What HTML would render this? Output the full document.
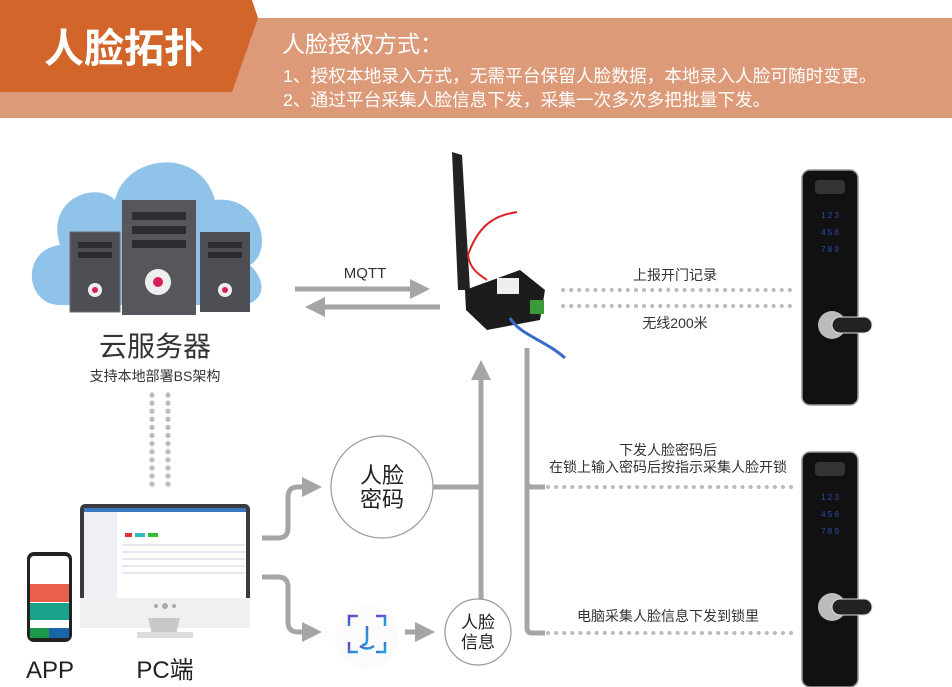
<!DOCTYPE html>
<html><head><meta charset="utf-8"><style>
body{margin:0;width:952px;height:687px;overflow:hidden;background:#fff;font-family:"Liberation Sans","Noto Sans CJK SC",sans-serif}
svg{display:block}
text{font-family:"Liberation Sans","Noto Sans CJK SC",sans-serif}
</style></head><body>
<svg width="952" height="687" viewBox="0 0 952 687" xmlns="http://www.w3.org/2000/svg">
<defs>
<marker id="ah" markerWidth="4" markerHeight="4" refX="2" refY="2" orient="auto" markerUnits="strokeWidth"><path d="M0,0 L4,2 L0,4 z" fill="#a3a6a4"/></marker>
<linearGradient id="fg" x1="0" y1="0" x2="1" y2="1"><stop offset="0" stop-color="#6a3fc8"/><stop offset="1" stop-color="#1aa7e0"/></linearGradient>
</defs>
<!-- header -->
<rect x="0" y="18" width="952" height="100" fill="#dc9a78"/>
<polygon points="0,0 252,0 258,18 232,92 0,92" fill="#d2652a"/>
<text x="44" y="62" font-size="40" font-weight="bold" fill="#fff">人脸拓扑</text>
<text x="282" y="52" font-size="23" fill="#fff">人脸授权方式：</text>
<text x="283" y="82" font-size="17.7" fill="#fff">1、授权本地录入方式，无需平台保留人脸数据，本地录入人脸可随时变更。</text>
<text x="283" y="106" font-size="17.7" fill="#fff">2、通过平台采集人脸信息下发，采集一次多次多把批量下发。</text>

<!-- cloud -->
<path d="M60,305 C25,305 20,250 60,245 C45,200 95,180 115,200 C125,155 200,145 215,200 C260,195 275,250 250,265 C275,290 255,310 230,305 Z" fill="#8fc3ea"/>
<rect x="70" y="232" width="50" height="80" fill="#4d4f55"/><rect x="70" y="232" width="50" height="80" fill="none" stroke="#6c6e73"/>
<rect x="78" y="242" width="34" height="6" fill="#2c2d31"/><rect x="78" y="252" width="34" height="6" fill="#2c2d31"/>
<circle cx="95" cy="290" r="7" fill="#eee"/><circle cx="95" cy="290" r="3" fill="#d81f5a"/>
<rect x="200" y="232" width="50" height="80" fill="#4d4f55"/>
<rect x="208" y="242" width="34" height="6" fill="#2c2d31"/><rect x="208" y="252" width="34" height="6" fill="#2c2d31"/>
<circle cx="225" cy="290" r="7" fill="#eee"/><circle cx="225" cy="290" r="3" fill="#d81f5a"/>
<rect x="122" y="200" width="74" height="115" fill="#55575d"/>
<rect x="132" y="212" width="54" height="8" fill="#2c2d31"/><rect x="132" y="226" width="54" height="8" fill="#2c2d31"/><rect x="132" y="240" width="54" height="8" fill="#2c2d31"/>
<circle cx="158" cy="282" r="13" fill="#eee"/><circle cx="158" cy="282" r="5" fill="#d81f5a"/>
<text x="155" y="356" font-size="28" fill="#333" text-anchor="middle">云服务器</text>
<text x="155" y="381" font-size="14" fill="#333" text-anchor="middle">支持本地部署BS架构</text>
<line x1="152" y1="395" x2="152" y2="492" stroke="#bbb" stroke-width="5" stroke-dasharray="0.1 8" stroke-linecap="round"/>
<line x1="168" y1="395" x2="168" y2="492" stroke="#bbb" stroke-width="5" stroke-dasharray="0.1 8" stroke-linecap="round"/>

<!-- MQTT -->
<text x="365" y="278" font-size="15" fill="#333" text-anchor="middle">MQTT</text>
<line x1="295" y1="289" x2="420" y2="289" stroke="#a3a6a4" stroke-width="5" marker-end="url(#ah)"/>
<line x1="440" y1="307" x2="315" y2="307" stroke="#a3a6a4" stroke-width="5" marker-end="url(#ah)"/>

<!-- gateway -->
<polygon points="452,152 462,155 470,290 458,290" fill="#222"/>
<path d="M468,255 C480,220 500,215 517,212" stroke="#d22" stroke-width="2" fill="none"/>
<path d="M468,255 C470,270 480,275 487,280" stroke="#d22" stroke-width="2" fill="none"/>
<polygon points="465,290 520,270 545,290 540,320 487,330 466,310" fill="#1c1c1c"/>
<rect x="497" y="278" width="22" height="16" fill="#eee"/>
<rect x="530" y="300" width="14" height="14" fill="#3a9a3a"/>
<path d="M510,318 C520,335 545,340 565,358" stroke="#3a6bc8" stroke-width="3" fill="none"/>

<!-- gateway vertical lines -->
<line x1="481" y1="600" x2="481" y2="370" stroke="#a3a6a4" stroke-width="5" marker-end="url(#ah)"/>
<path d="M527,348 L527,628 Q527,633 532,633 L545,633" stroke="#a3a6a4" stroke-width="5" fill="none"/>
<path d="M527,482 Q527,487 532,487 L545,487" stroke="#a3a6a4" stroke-width="5" fill="none"/>

<!-- right dotted -->
<line x1="563" y1="290" x2="795" y2="290" stroke="#bbb" stroke-width="4" stroke-dasharray="0.1 8" stroke-linecap="round"/>
<line x1="563" y1="306" x2="795" y2="306" stroke="#bbb" stroke-width="4" stroke-dasharray="0.1 8" stroke-linecap="round"/>
<text x="675" y="280" font-size="14" fill="#333" text-anchor="middle">上报开门记录</text>
<text x="675" y="328" font-size="14" fill="#333" text-anchor="middle">无线200米</text>
<line x1="548" y1="487" x2="795" y2="487" stroke="#bbb" stroke-width="4" stroke-dasharray="0.1 8" stroke-linecap="round"/>
<line x1="548" y1="633" x2="795" y2="633" stroke="#bbb" stroke-width="4" stroke-dasharray="0.1 8" stroke-linecap="round"/>
<text x="668" y="455" font-size="14" fill="#333" text-anchor="middle">下发人脸密码后</text>
<text x="668" y="472" font-size="14" fill="#333" text-anchor="middle">在锁上输入密码后按指示采集人脸开锁</text>
<text x="668" y="621" font-size="14" fill="#333" text-anchor="middle">电脑采集人脸信息下发到锁里</text>

<!-- locks -->
<g>
<rect x="802" y="170" width="56" height="235" rx="8" fill="#111" stroke="#999" stroke-width="1.5"/>
<rect x="815" y="180" width="30" height="14" rx="4" fill="#333"/>
<text x="830" y="218" font-size="8" fill="#2b4fb0" text-anchor="middle">1  2  3</text>
<text x="830" y="235" font-size="8" fill="#2b4fb0" text-anchor="middle">4  5  6</text>
<text x="830" y="252" font-size="8" fill="#2b4fb0" text-anchor="middle">7  8  9</text>
<circle cx="832" cy="325" r="14" fill="#bbb"/><rect x="832" y="317" width="40" height="16" rx="8" fill="#222" stroke="#ddd"/>
</g>
<g transform="translate(0,282)">
<rect x="802" y="170" width="56" height="235" rx="8" fill="#111" stroke="#999" stroke-width="1.5"/>
<rect x="815" y="180" width="30" height="14" rx="4" fill="#333"/>
<text x="830" y="218" font-size="8" fill="#2b4fb0" text-anchor="middle">1  2  3</text>
<text x="830" y="235" font-size="8" fill="#2b4fb0" text-anchor="middle">4  5  6</text>
<text x="830" y="252" font-size="8" fill="#2b4fb0" text-anchor="middle">7  8  9</text>
<circle cx="832" cy="325" r="14" fill="#bbb"/><rect x="832" y="317" width="40" height="16" rx="8" fill="#222" stroke="#ddd"/>
</g>

<!-- monitor -->
<rect x="80" y="504" width="170" height="105" rx="5" fill="#3a3b3e"/>
<rect x="84" y="508" width="162" height="96" fill="#fff"/>
<rect x="84" y="508" width="162" height="4" fill="#3a78c0"/>
<rect x="84" y="512" width="33" height="88" fill="#eef0f5"/>
<rect x="125" y="533" width="7" height="4" fill="#d33"/><rect x="135" y="533" width="10" height="4" fill="#3bb"/><rect x="148" y="533" width="10" height="4" fill="#3b3"/>
<g stroke="#ccd" stroke-width="1"><line x1="122" y1="545" x2="245" y2="545"/><line x1="122" y1="552" x2="245" y2="552"/><line x1="122" y1="559" x2="245" y2="559"/><line x1="122" y1="566" x2="245" y2="566"/><line x1="122" y1="573" x2="245" y2="573"/></g>
<rect x="80" y="598" width="170" height="30" fill="#f0f0f0"/>
<circle cx="165" cy="606" r="3" fill="#aaa"/><circle cx="156" cy="606" r="2" fill="#aaa"/><circle cx="174" cy="606" r="2" fill="#aaa"/>
<polygon points="148,618 180,618 176,634 152,634" fill="#c8c8c8"/>
<rect x="137" y="632" width="56" height="6" fill="#ddd"/>
<!-- phone -->
<rect x="27" y="552" width="45" height="90" rx="7" fill="#222"/>
<rect x="30" y="556" width="39" height="82" rx="4" fill="#fff"/>
<rect x="30" y="584" width="39" height="18" fill="#e8604a"/>
<rect x="30" y="603" width="39" height="17" fill="#1aa38a"/>
<rect x="30" y="628" width="19" height="10" fill="#1a9a4a"/><rect x="49" y="628" width="20" height="10" fill="#1a64a8"/>
<text x="50" y="678" font-size="24" fill="#222" text-anchor="middle">APP</text>
<text x="165" y="678" font-size="24" fill="#222" text-anchor="middle">PC端</text>

<!-- flows -->
<path d="M262,538 L278,538 Q288,538 288,528 L288,497 Q288,487 298,487 L312,487" stroke="#a3a6a4" stroke-width="5" fill="none" marker-end="url(#ah)"/>
<path d="M262,577 L278,577 Q288,577 288,587 L288,622 Q288,632 298,632 L312,632" stroke="#a3a6a4" stroke-width="5" fill="none" marker-end="url(#ah)"/>
<circle cx="382" cy="487" r="51" fill="#fff" stroke="#999" stroke-width="1.2"/>
<text x="382" y="483" font-size="22" fill="#222" text-anchor="middle">人脸</text>
<text x="382" y="507" font-size="22" fill="#222" text-anchor="middle">密码</text>
<line x1="433" y1="487" x2="481" y2="487" stroke="#a3a6a4" stroke-width="5"/>
<circle cx="367" cy="637" r="32" fill="#fbfbfb"/>
<g stroke="url(#fg)" stroke-width="2.5" fill="none">
<path d="M349,626 L349,616 L358,616"/><path d="M376,616 L385,616 L385,626"/>
<path d="M349,642 L349,652 L358,652"/><path d="M376,652 L385,652 L385,642"/>
<path d="M367,626 L367,640 Q367,645 362,645"/><path d="M360,646 Q367,651 374,646"/>
</g>
<line x1="405" y1="632" x2="425" y2="632" stroke="#a3a6a4" stroke-width="5" marker-end="url(#ah)"/>
<circle cx="478" cy="632" r="33" fill="#fff" stroke="#999" stroke-width="1.2"/>
<text x="478" y="628" font-size="17" fill="#222" text-anchor="middle">人脸</text>
<text x="478" y="648" font-size="17" fill="#222" text-anchor="middle">信息</text>
</svg>
</body></html>
